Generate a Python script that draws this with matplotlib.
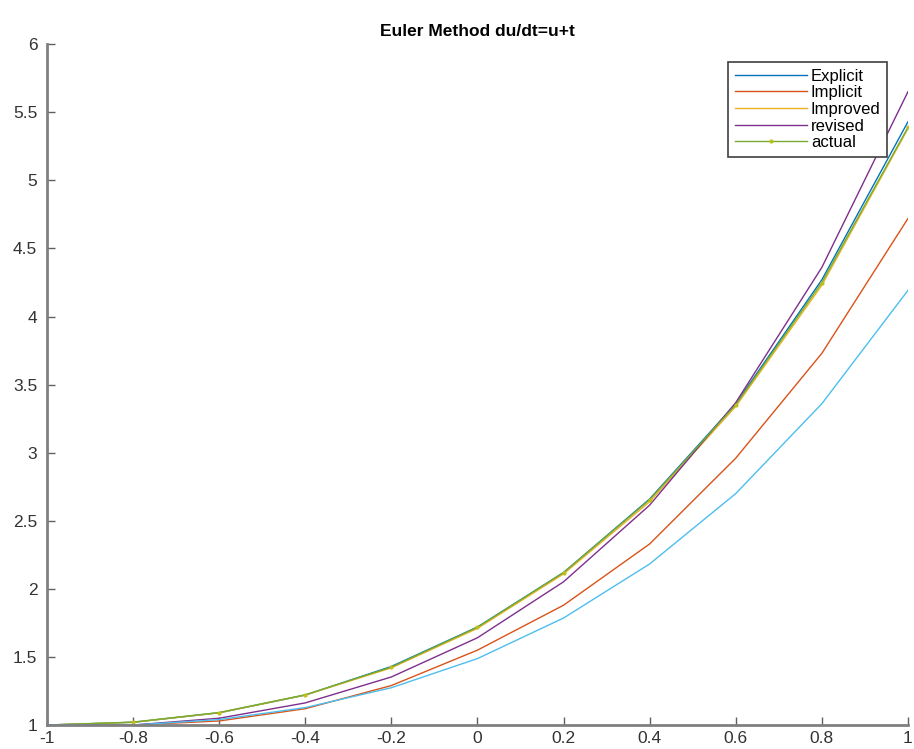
import matplotlib.pyplot as plt

plt.rcParams['font.family'] = ['Liberation Sans', 'DejaVu Sans']

# grid points and the values
t = [-1.0, -0.8, -0.6, -0.4, -0.2, 0.0, 0.2, 0.4, 0.6, 0.8, 1.0]
explicit = [1.0, 1.02, 1.09, 1.22, 1.43, 1.72, 2.12, 2.66, 3.36, 4.27, 5.43]
implicit = [1.0, 1.0, 1.03, 1.12, 1.29, 1.55, 1.88, 2.33, 2.96, 3.73, 4.72]
improved = [1.0, 1.02, 1.09, 1.22, 1.42, 1.71, 2.11, 2.64, 3.34, 4.23, 5.38]
revised = [1.0, 1.0, 1.05, 1.1625, 1.353, 1.641, 2.052, 2.615, 3.368, 4.361, 5.651]
actual = [1.0, 1.0214, 1.0918, 1.2221, 1.4255, 1.7183, 2.1201, 2.6552, 3.3530, 4.2496, 5.3891]
euler_step = [1.0, 1.0, 1.04, 1.128, 1.274, 1.488, 1.786, 2.183, 2.700, 3.360, 4.192]

x_ticks = [-1, -0.8, -0.6, -0.4, -0.2, 0, 0.2, 0.4, 0.6, 0.8, 1]
x_tick_labels = ['-1', '-0.8', '-0.6', '-0.4', '-0.2', '0', '0.2', '0.4', '0.6', '0.8', '1']
y_ticks = [1, 1.5, 2, 2.5, 3, 3.5, 4, 4.5, 5, 5.5, 6]
y_tick_labels = ['1', '1.5', '2', '2.5', '3', '3.5', '4', '4.5', '5', '5.5', '6']

fig = plt.figure(figsize=(9.14, 7.49), dpi=100)
ax = fig.add_axes([0.0514, 0.032, 0.942, 0.909])

lw = 1.0
ax.plot(t, explicit, color=(0.0, 0.447, 0.741), lw=lw, label='Explicit')
ax.plot(t, implicit, color=(0.85, 0.325, 0.098), lw=lw, label='Implicit')
ax.plot(t, improved, color=(0.929, 0.694, 0.125), lw=lw, label='Improved')
ax.plot(t, revised, color=(0.494, 0.184, 0.556), lw=lw, label='revised')
ax.plot(t, actual, color=(0.466, 0.674, 0.188), lw=lw, marker='.', ms=4,
        markerfacecolor=(0.75, 0.75, 0.1), markeredgecolor=(0.75, 0.75, 0.1),
        label='actual')
ax.plot(t, euler_step, color=(0.301, 0.745, 0.933), lw=lw)

ax.set_xlim(-1, 1)
ax.set_ylim(1, 6)
ax.set_xticks(x_ticks)
ax.set_xticklabels(x_tick_labels)
ax.set_yticks(y_ticks)
ax.set_yticklabels(y_tick_labels)

for side in ['top', 'right']:
    ax.spines[side].set_visible(False)
for side in ['left', 'bottom']:
    ax.spines[side].set_color('#808080')
    ax.spines[side].set_linewidth(2)
ax.tick_params(direction='in', length=6, width=1, color='#606060',
               labelsize=12.5, labelcolor='#333333')
ax.tick_params(axis='x', pad=4)
ax.tick_params(axis='y', pad=7)

ax.set_title('Euler Method du/dt=u+t', fontsize=12.5, fontweight='bold', pad=6)

leg = ax.legend(loc='upper right', bbox_to_anchor=(0.976, 0.974), fontsize=12,
                handlelength=4.3, handletextpad=0.25, labelspacing=0.1,
                borderpad=0.4, fancybox=False, framealpha=1, borderaxespad=0)
leg.get_frame().set_edgecolor('#404040')
leg.get_frame().set_linewidth(1.2)

fig.savefig('out.png', dpi=100)
